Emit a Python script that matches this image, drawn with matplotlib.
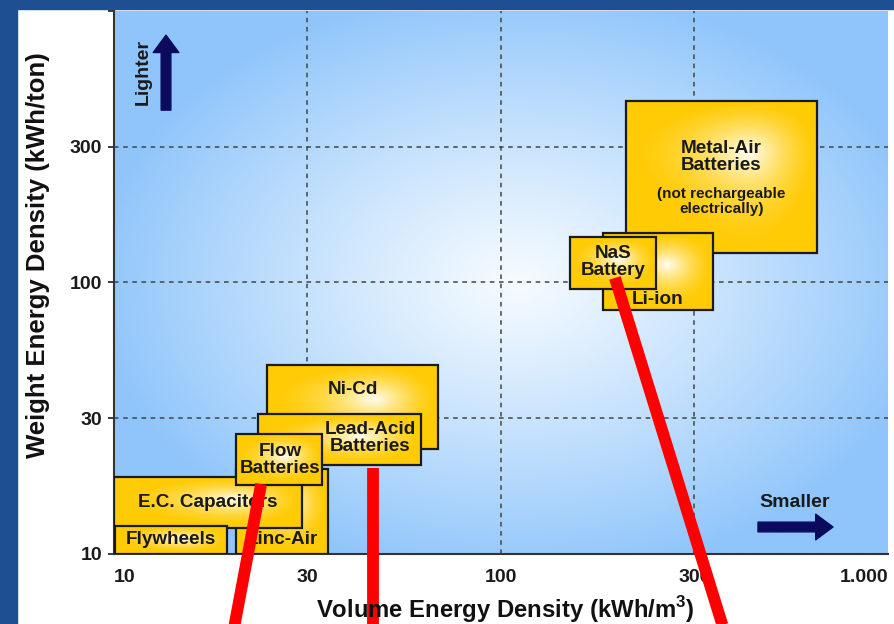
import numpy as np
import matplotlib.pyplot as plt
from matplotlib.patches import Rectangle
from matplotlib.colors import to_rgb

plt.rcParams['font.family'] = ['Liberation Sans', 'DejaVu Sans']
plt.rcParams['font.weight'] = 'bold'
plt.rcParams['mathtext.fontset'] = 'custom'
plt.rcParams['mathtext.bf'] = 'Liberation Sans:bold'
plt.rcParams['mathtext.rm'] = 'Liberation Sans:bold'

# storage technologies: volume energy density (kWh/m3) and weight energy density (kWh/ton) ranges
names = ['Metal-Air\nBatteries', 'Li-ion', 'NaS\nBattery', 'Ni-Cd', 'Lead-Acid\nBatteries',
         'Zinc-Air', 'E.C. Capacitors', 'Flywheels', 'Flow\nBatteries']
vol_lo = [210, 183.5, 150.8, 24.9, 23.5, 20.7, 10, 10.06, 20.7]
vol_hi = [656, 353, 251, 68.7, 62.1, 35.7, 30.6, 19.6, 34.5]
wt_lo = [128, 79.1, 94.5, 24.3, 21.3, 10, 12.5, 10, 17.9]
wt_hi = [466, 152, 146.9, 49.7, 32.7, 20.6, 19.2, 12.7, 27.7]
note = '(not rechargeable\nelectrically)'

xtick_vals = [10, 31.6, 100, 316, 1000]
xtick_labels = ['10', '30', '100', '300', '1.000']
ytick_vals = [10, 31.6, 100, 316, 1000]
ytick_labels = ['10', '30', '100', '300', '']
grid_vals = [31.6, 100, 316]

# red strokes drawn over the slide
red_x = [[24.0, 20.4], [46.7, 46.7], [197, 376]]
red_y = [[18.1, 5.3], [20.7, 5.3], [103.8, 5.3]]

# label placement inside each box (fraction of box in log space)
label_fx = [0.5, 0.5, 0.5, 0.5, 0.69, 0.5, 0.5, 0.5, 0.51]
label_fy = [0.63, 0.13, 0.52, 0.71, 0.53, 0.165, 0.49, 0.5, 0.49]

W, H = 895, 624
fig = plt.figure(figsize=(W / 100, H / 100), dpi=100)
fig.patch.set_facecolor('white')
slide_blue = '#1f4f93'
fig.patches.append(Rectangle((0, 0), 17 / W, 1, transform=fig.transFigure, color=slide_blue, zorder=-5))
fig.patches.append(Rectangle((0, 1 - 9 / H), 1, 9 / H, transform=fig.transFigure, color=slide_blue, zorder=-5))

rect = [114 / W, (H - 554) / H, 774 / W, 543.3 / H]

# radial gradient background of the plot area
bg = fig.add_axes(rect, zorder=0)
bg.set_axis_off()
gx, gy = np.meshgrid(np.linspace(0, 1, 400), np.linspace(0, 1, 300))
r = np.sqrt(((gx - 0.52) / 0.55) ** 2 + ((gy - 0.50) / 0.55) ** 2)
t = np.clip(r, 0, 1) ** 1.1
c0 = np.array(to_rgb('#f6fbff'))
c1 = np.array(to_rgb('#8fc5fb'))
img = c0 + (c1 - c0) * t[..., None]
bg.imshow(img, extent=[0, 1, 0, 1], aspect='auto', origin='lower', interpolation='bilinear')
bg.set_xlim(0, 1)
bg.set_ylim(0, 1)

ax = fig.add_axes(rect, zorder=1)
ax.patch.set_visible(False)
ax.set_xscale('log')
ax.set_yscale('log')
ax.set_autoscale_on(False)
ax.set_xlim(10, 1000)
ax.set_ylim(10, 1000)

for v in grid_vals:
    ax.axvline(v, color='#444444', lw=1.1, ls=(0, (3, 3)), zorder=1)
    ax.axhline(v, color='#444444', lw=1.1, ls=(0, (3, 3)), zorder=1)

# golden boxes with white glow
bx, by = np.meshgrid(np.linspace(-1, 1, 120), np.linspace(-1, 1, 80))
br = np.clip(np.sqrt(bx ** 2 + by ** 2), 0, 1)
gold = np.array(to_rgb('#ffcb05'))
glow = np.array(to_rgb('#fffdf2'))
box_img = gold + (glow - gold) * ((1 - br) ** 1.6)[..., None]

for i, name in enumerate(names):
    z = 3 + i
    x0, x1, y0, y1 = vol_lo[i], vol_hi[i], wt_lo[i], wt_hi[i]
    ax.imshow(box_img, extent=[x0, x1, y0, y1], aspect='auto', origin='lower',
              interpolation='bilinear', zorder=z)
    ax.add_patch(Rectangle((x0, y0), x1 - x0, y1 - y0, fill=False, ec='#1a1a1a', lw=1.6, zorder=z + 0.1))
    lx = 10 ** (np.log10(x0) + label_fx[i] * (np.log10(x1) - np.log10(x0)))
    ly = 10 ** (np.log10(y0) + label_fy[i] * (np.log10(y1) - np.log10(y0)))
    ax.text(lx, ly, name, ha='center', va='center', fontsize=13.6, fontweight='bold',
            color='#1a1a1a', linespacing=1.0, zorder=z + 0.2)
    if i == 0:
        ny = 10 ** (np.log10(y0) + 0.34 * (np.log10(y1) - np.log10(y0)))
        ax.text(lx, ny, note, ha='center', va='center', fontsize=11, fontweight='bold',
                color='#1a1a1a', linespacing=1.05, zorder=z + 0.2)

ax.set_xlim(10, 1000)
ax.set_ylim(10, 1000)
ax.minorticks_off()
ax.set_xticks(xtick_vals)
ax.set_xticklabels(xtick_labels)
ax.set_yticks(ytick_vals)
ax.set_yticklabels(ytick_labels)
ax.tick_params(axis='x', length=0, pad=11, labelsize=14, colors='#1a1a1a')
ax.tick_params(axis='y', length=4.5, width=1.2, pad=4, labelsize=14, colors='#1a1a1a', direction='out')
xl = ax.get_xticklabels()
xl[0].set_ha('left')
xl[-1].set_ha('right')
for s in ['top', 'right']:
    ax.spines[s].set_visible(False)
for s in ['left', 'bottom']:
    ax.spines[s].set_color('#333333')
    ax.spines[s].set_linewidth(1.5)

# direction hints
navy = '#0b0b5e'
ax.annotate('', xy=(0.0672, 0.955), xytext=(0.0672, 0.817), xycoords='axes fraction',
            arrowprops=dict(arrowstyle='simple,head_length=1.25,head_width=1.85,tail_width=0.7',
                            mutation_scale=10, color=navy, shrinkA=0, shrinkB=0))
ax.text(0.0375, 0.887, 'Lighter', transform=ax.transAxes, rotation=90, ha='center', va='center',
        fontsize=14, fontweight='bold', color='#1a1a1a')
ax.annotate('', xy=(0.929, 0.0497), xytext=(0.832, 0.0497), xycoords='axes fraction',
            arrowprops=dict(arrowstyle='simple,head_length=1.25,head_width=1.85,tail_width=0.7',
                            mutation_scale=10, color=navy, shrinkA=0, shrinkB=0))
ax.text(0.88, 0.0957, 'Smaller', transform=ax.transAxes, ha='center', va='center',
        fontsize=14, fontweight='bold', color='#1a1a1a')

for xs, ys in zip(red_x, red_y):
    ax.plot(xs, ys, color='#ff0000', lw=8.5, solid_capstyle='butt', clip_on=False, zorder=30)

fig.text(505 / W, 1 - 610 / H, 'Volume Energy Density (kWh/m$^\\mathbf{3}$)', ha='center', va='center',
         fontsize=17.2, fontweight='bold', color='#111111')
fig.text(38 / W, 1 - 255 / H, 'Weight Energy Density (kWh/ton)', ha='center', va='center', rotation=90,
         fontsize=18.5, fontweight='bold', color='#111111')

fig.savefig('out.png', dpi=100)
